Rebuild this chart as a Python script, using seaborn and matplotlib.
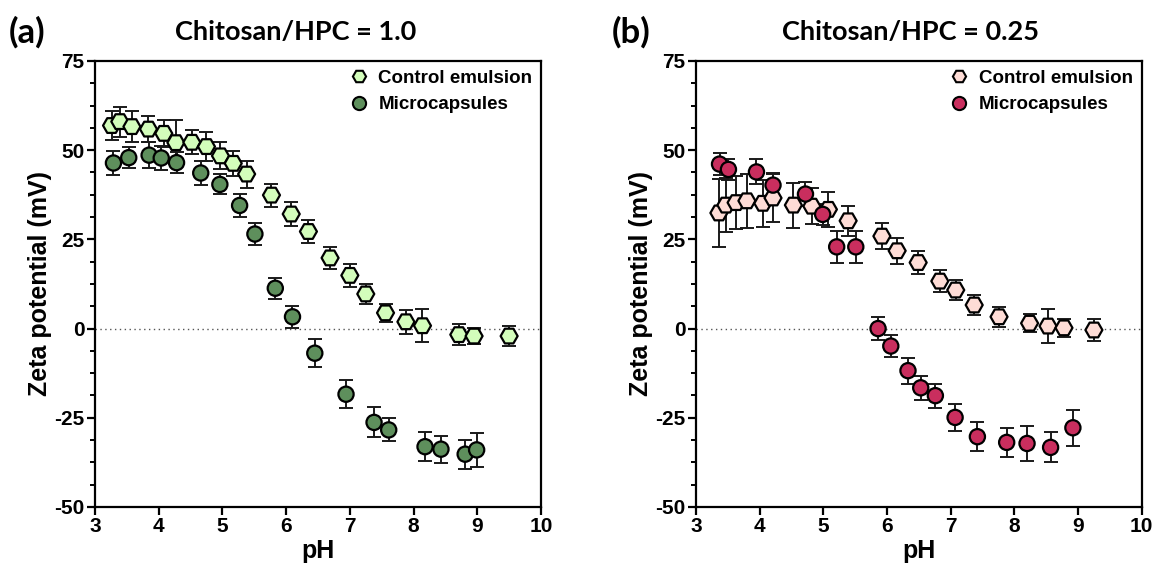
import numpy as np
import pandas as pd
import matplotlib
matplotlib.use("Agg")
import matplotlib.pyplot as plt
from matplotlib.ticker import MultipleLocator
import seaborn as sns

# ---- Panel (a): Chitosan/HPC = 1.0 ----
a_ctrl_ph = [3.26, 3.39, 3.58, 3.84, 4.08, 4.27, 4.52, 4.75, 4.97, 5.17, 5.38,
             5.77, 6.08, 6.35, 6.69, 7.00, 7.25, 7.56, 7.88, 8.14, 8.71, 8.95, 9.50]
a_ctrl_zeta = [56.9, 58.0, 56.6, 55.9, 54.7, 52.1, 52.2, 51.0, 48.4, 46.3, 43.3,
               37.4, 32.1, 27.2, 19.8, 14.9, 9.7, 4.4, 1.9, 0.8, -1.7, -2.1, -2.1]
a_ctrl_err = [4.0, 4.2, 4.3, 3.7, 3.8, 6.4, 3.4, 4.0, 3.8, 3.6, 3.8,
              3.2, 3.3, 3.1, 3.0, 3.2, 2.8, 2.5, 3.3, 4.7, 3.0, 2.3, 2.7]

a_mc_ph = [3.29, 3.53, 3.85, 4.04, 4.28, 4.66, 4.96, 5.27, 5.51, 5.83, 6.10,
           6.45, 6.94, 7.38, 7.61, 8.18, 8.43, 8.81, 8.99]
a_mc_zeta = [46.4, 47.9, 48.6, 47.8, 46.5, 43.6, 40.4, 34.5, 26.5, 11.3, 3.3,
             -6.9, -18.4, -26.3, -28.4, -33.1, -33.8, -35.2, -34.0]
a_mc_err = [3.4, 3.0, 3.7, 3.3, 3.0, 3.3, 2.8, 3.1, 3.2, 3.0, 3.1,
            3.9, 4.0, 4.2, 3.2, 4.1, 3.8, 4.1, 4.7]

# ---- Panel (b): Chitosan/HPC = 0.25 ----
b_ctrl_ph = [3.36, 3.47, 3.63, 3.80, 4.05, 4.21, 4.53, 4.82, 5.08, 5.39, 5.92,
             6.16, 6.49, 6.83, 7.08, 7.37, 7.76, 8.24, 8.53, 8.78, 9.25]
b_ctrl_zeta = [32.4, 34.6, 35.3, 35.8, 35.1, 36.6, 34.6, 34.3, 33.4, 30.2, 25.9,
               21.8, 18.5, 13.3, 10.8, 6.6, 3.3, 1.5, 0.7, 0.2, -0.4]
b_ctrl_err = [9.5, 7.5, 7.5, 7.6, 6.6, 6.8, 6.3, 5.0, 5.0, 4.2, 3.6,
              3.6, 3.2, 3.1, 2.8, 2.8, 2.8, 2.6, 4.8, 2.5, 3.1]

b_mc_ph = [3.37, 3.51, 3.95, 4.21, 4.72, 4.99, 5.21, 5.51, 5.86, 6.06, 6.33,
           6.53, 6.76, 7.07, 7.42, 7.88, 8.20, 8.57, 8.92]
b_mc_zeta = [46.1, 44.6, 43.9, 40.2, 37.7, 32.0, 22.9, 22.9, 0.0, -4.9, -11.8,
             -16.6, -18.8, -24.9, -30.3, -31.9, -32.2, -33.3, -27.8]
b_mc_err = [3.2, 3.0, 3.5, 3.4, 3.4, 2.9, 4.4, 4.4, 3.3, 3.1, 3.6,
            3.4, 3.4, 3.8, 4.0, 4.1, 4.9, 4.2, 5.0]

series_names = ["Control emulsion", "Microcapsules"]
panel_titles = ["Chitosan/HPC = 1.0", "Chitosan/HPC = 0.25"]
panel_tags = ["(a)", "(b)"]
x_ticks = [3, 4, 5, 6, 7, 8, 9, 10]
y_ticks = [-50, -25, 0, 25, 50, 75]


def make_frame(ctrl, mc):
    parts = []
    for name, (ph, z, e) in zip(series_names, [ctrl, mc]):
        parts.append(pd.DataFrame({"pH": ph, "zeta": z, "err": e, "sample": name}))
    return pd.concat(parts, ignore_index=True)


df_a = make_frame((a_ctrl_ph, a_ctrl_zeta, a_ctrl_err), (a_mc_ph, a_mc_zeta, a_mc_err))
df_b = make_frame((b_ctrl_ph, b_ctrl_zeta, b_ctrl_err), (b_mc_ph, b_mc_zeta, b_mc_err))

palettes = [
    {"Control emulsion": "#D3FDBB", "Microcapsules": "#5E8F5C"},
    {"Control emulsion": "#FEDCD6", "Microcapsules": "#C92E5E"},
]
marker_map = {"Control emulsion": "H", "Microcapsules": "o"}
size_map = {"Control emulsion": 150, "Microcapsules": 120}

sns.set_theme(style="ticks")
plt.rcParams["font.family"] = ["Liberation Sans", "DejaVu Sans"]
plt.rcParams["font.weight"] = "bold"
plt.rcParams["axes.unicode_minus"] = False
for key in ["text.color", "axes.labelcolor", "xtick.color", "ytick.color", "axes.edgecolor"]:
    plt.rcParams[key] = "black"

fig = plt.figure(figsize=(11.54, 5.75), dpi=100)
axes = [fig.add_axes([0.0823, 0.1183, 0.3865, 0.7757]),
        fig.add_axes([0.6031, 0.1183, 0.3862, 0.7757])]

for ax, df, pal, title, tag in zip(axes, [df_a, df_b], palettes, panel_titles, panel_tags):
    ax.axhline(0, color="#555555", lw=1.0, ls=(0, (1, 2.5)), zorder=1)
    for name in series_names:
        sub = df[df["sample"] == name]
        ax.errorbar(sub["pH"], sub["zeta"], yerr=sub["err"], fmt="none",
                    ecolor="#1a1a1a", elinewidth=1.4, capsize=5, capthick=1.4, zorder=2)
    sns.scatterplot(data=df, x="pH", y="zeta", hue="sample", style="sample",
                    hue_order=series_names, style_order=series_names,
                    palette=pal, markers=marker_map, size="sample", sizes=size_map,
                    edgecolor="black", linewidth=1.6, alpha=1, ax=ax, zorder=3)

    ax.set_xlim(3, 10)
    ax.set_ylim(-50, 75)
    ax.set_xticks(x_ticks)
    ax.set_yticks(y_ticks)
    ax.yaxis.set_minor_locator(MultipleLocator(6.25))
    ax.tick_params(axis="both", which="major", direction="out", length=6, width=1.6,
                   labelsize=15, pad=1.5, color="black", labelcolor="black")
    ax.tick_params(axis="y", which="minor", direction="out", length=3.5, width=1.4, color="black")
    for lab in ax.get_xticklabels() + ax.get_yticklabels():
        lab.set_fontweight("bold")
    for side in ["left", "bottom", "top", "right"]:
        ax.spines[side].set_visible(True)
        ax.spines[side].set_color("black")
        ax.spines[side].set_linewidth(1.6)
    ax.set_xlabel("pH", fontsize=18, fontweight="bold", labelpad=2, color="black")
    ax.set_ylabel("Zeta potential (mV)", fontsize=18, fontweight="bold", labelpad=2, color="black")

    handles, labels = ax.get_legend_handles_labels()
    keep = [(h, l) for h, l in zip(handles, labels) if l in series_names]
    for h, _ in keep:
        h.set_markeredgecolor("black")
        h.set_markeredgewidth(1.5)
        h.set_markersize(9.5)
    leg = ax.legend([h for h, _ in keep], [l for _, l in keep], loc="upper right",
                    bbox_to_anchor=(1.006, 1.006),
                    frameon=False, prop={"weight": "bold", "size": 13.5},
                    handletextpad=0.45, borderaxespad=0.2, labelspacing=0.5,
                    handlelength=1.2)
    for t in leg.get_texts():
        t.set_color("black")

title_font = ["Lato", "DejaVu Sans"]
fig.text(0.2565, 0.944, panel_titles[0], ha="center", va="center", color="black",
         fontsize=19.5, fontweight="bold", family=title_font)
fig.text(0.789, 0.944, panel_titles[1], ha="center", va="center", color="black",
         fontsize=19.5, fontweight="bold", family=title_font)
fig.text(0.008, 0.944, panel_tags[0], ha="left", va="center", color="black",
         fontsize=25, fontweight="bold", family=title_font)
fig.text(0.530, 0.944, panel_tags[1], ha="left", va="center", color="black",
         fontsize=25, fontweight="bold", family=title_font)

fig.savefig("out.png", dpi=100, facecolor="white")
